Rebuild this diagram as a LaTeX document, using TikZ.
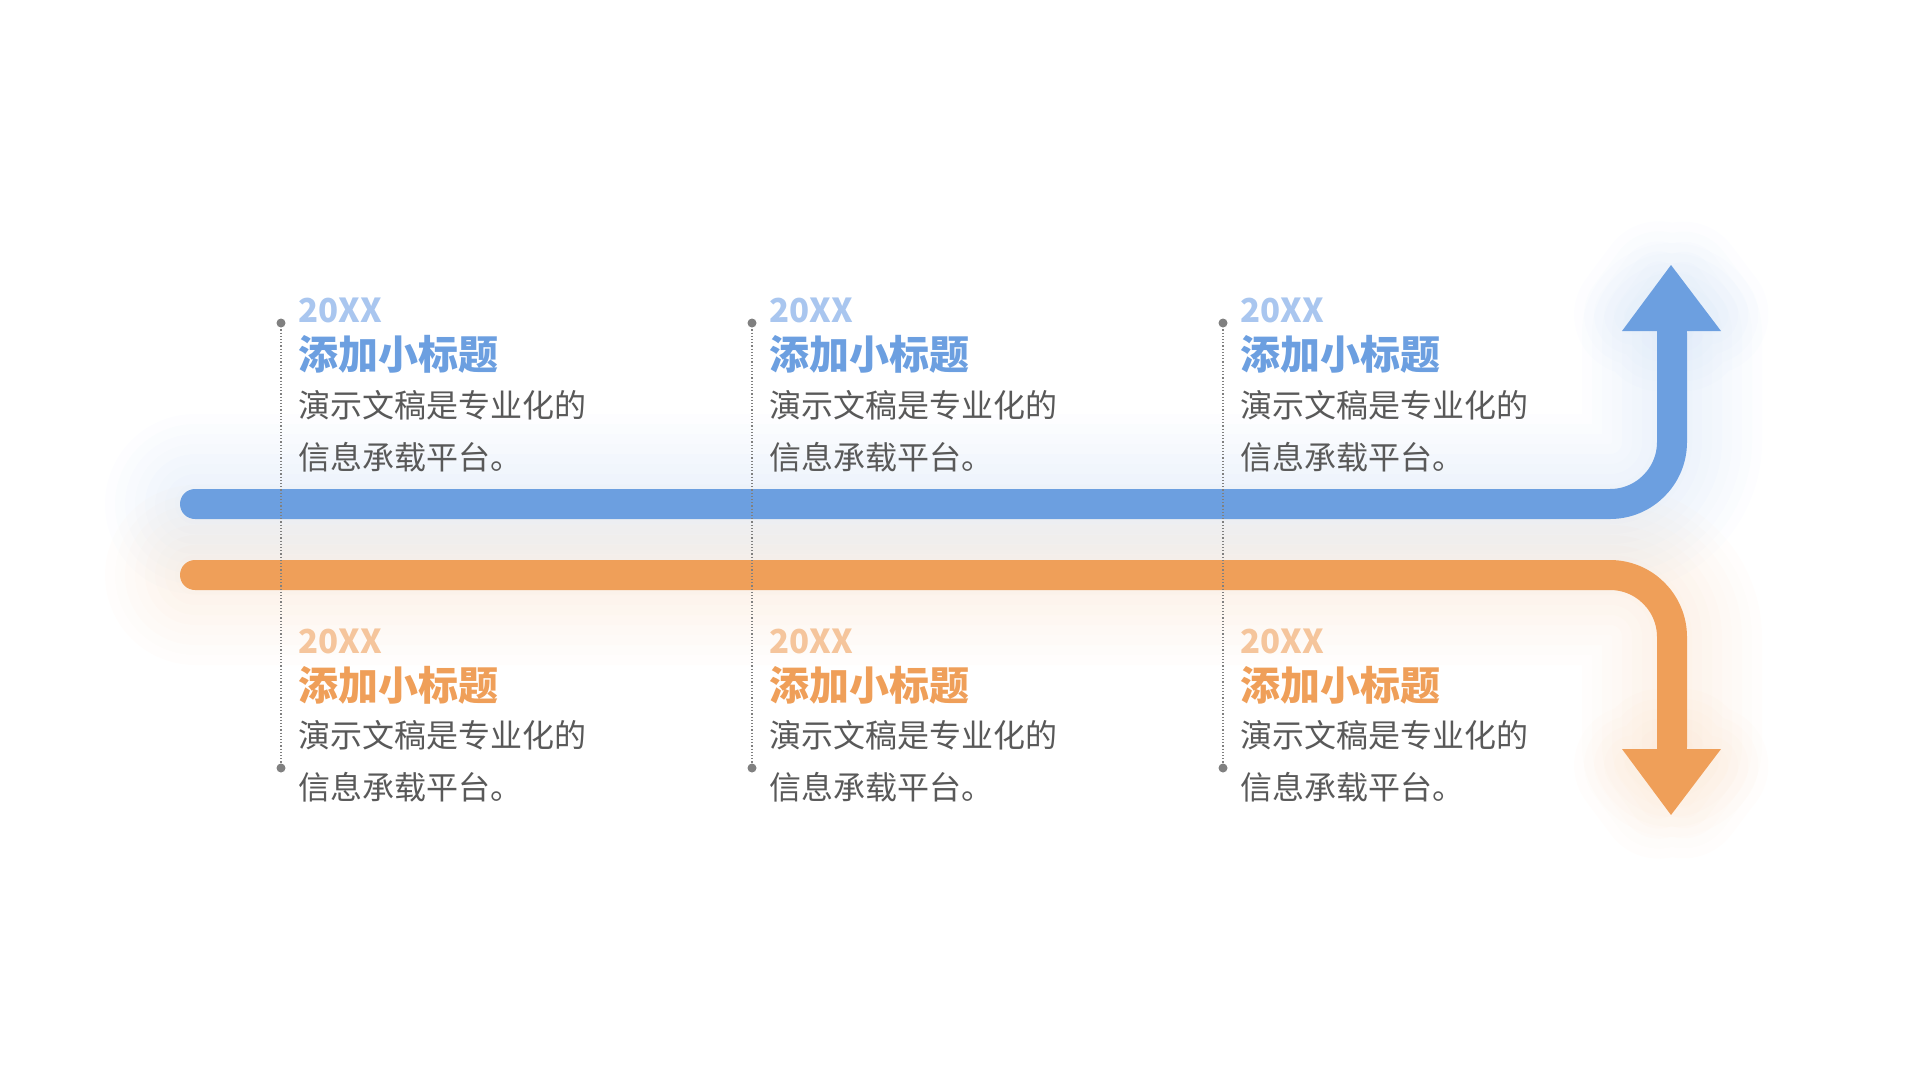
\documentclass[tikz,border=0pt]{standalone}
\usepackage{fontspec}
\setmainfont{Noto Sans CJK SC}
\definecolor{bluemain}{HTML}{6C9FE0}
\definecolor{bluesoft}{HTML}{A9C6EF}
\definecolor{orangemain}{HTML}{EF9F59}
\definecolor{orangesoft}{HTML}{F5C59C}
\definecolor{bodygray}{HTML}{595959}
\definecolor{leadgray}{HTML}{808080}
\begin{document}
\begin{tikzpicture}[x=1pt,y=-1pt,
  track/.style={line width=30, rounded corners=62},
  glow/.style={line width=#1, draw opacity=0.016, rounded corners=62, line cap=round, line join=round},
  tiphead/.style={line join=round},
  leader/.style={leadgray, line width=1.2, dotted},
  pin/.style={fill=leadgray},
  year/.style={anchor=west, inner sep=0, font=\fontsize{33}{36}\selectfont\bfseries},
  heading/.style={anchor=west, inner sep=0, font=\fontsize{40}{48}\selectfont\bfseries},
  body/.style={anchor=base west, inner sep=0, align=left, text=bodygray, font=\fontsize{32}{52}\selectfont}]
  \useasboundingbox (0,0) rectangle (1920,1080);

  \coordinate (bstart) at (195,504);
  \coordinate (bend) at (1672,333);
  \coordinate (btip) at (1671,265);
  \coordinate (bleft) at (1622,331);
  \coordinate (bright) at (1721,331);
  \coordinate (ostart) at (195,575);
  \coordinate (oend) at (1672,747);
  \coordinate (otip) at (1671,815);
  \coordinate (oleft) at (1622,749);
  \coordinate (oright) at (1721,749);

  % soft glow
  \foreach \w in {40,60,...,180} {
    \draw[glow=\w, bluemain] (bstart) -| (bend);
    \draw[glow=\w, orangemain] (ostart) -| (oend);
  }
  \foreach \w in {20,40,...,120} {
    \draw[glow=\w, bluemain] (bleft) -- (btip) -- (bright) -- cycle;
    \draw[glow=\w, orangemain] (oleft) -- (otip) -- (oright) -- cycle;
  }

  \draw[track, bluemain, line cap=round] (bstart) -| (bend);
  \fill[tiphead, bluemain] (bleft) -- (btip) -- (bright) -- cycle;
  \draw[track, orangemain, line cap=round] (ostart) -| (oend);
  \fill[tiphead, orangemain] (oleft) -- (otip) -- (oright) -- cycle;

  \foreach \cx [count=\i] in {281,752,1223} {
    \draw[leader] (\cx,323) -- (\cx,768);
    \fill[pin] (\cx,323) circle (4.5);
    \fill[pin] (\cx,768) circle (4.5);

    \node[year, text=bluesoft] (yeartop\i) at (\cx+17,310) {20XX};
    \node[heading, text=bluemain] (headtop\i) at (\cx+17,354) {添加小标题};
    \node[body] (bodytop\i) at (\cx+17,469) {演示文稿是专业化的\\信息承载平台。};

    \node[year, text=orangesoft] (yearbot\i) at (\cx+17,641) {20XX};
    \node[heading, text=orangemain] (headbot\i) at (\cx+17,685) {添加小标题};
    \node[body] (bodybot\i) at (\cx+17,799) {演示文稿是专业化的\\信息承载平台。};
  }
\end{tikzpicture}
\end{document}
